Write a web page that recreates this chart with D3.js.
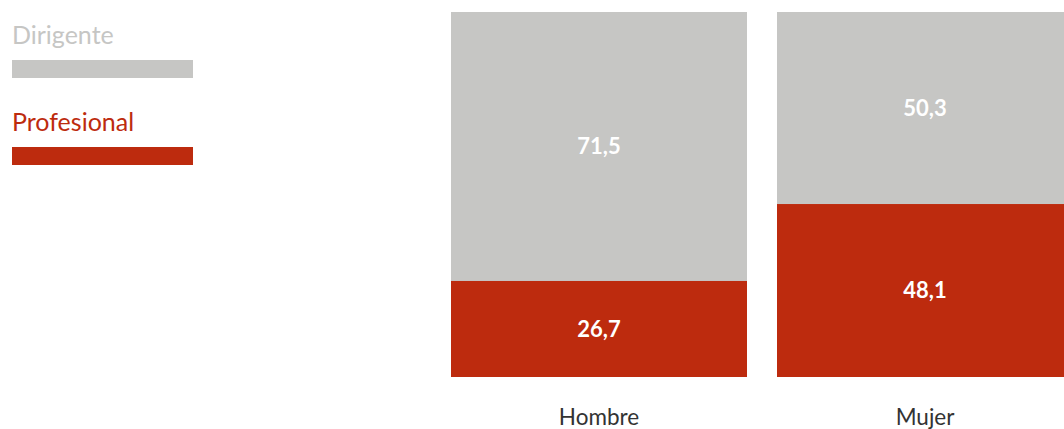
<!DOCTYPE html>
<html>
<head>
<meta charset="utf-8">
<script src="https://cdn.jsdelivr.net/npm/d3@7"></script>
<style>
  html, body { margin: 0; padding: 0; background: #ffffff; }
  svg { display: block; }
</style>
</head>
<body>
<svg id="chart" width="1064" height="429"></svg>
<script>
// ---- data ----
const categories = ["Hombre", "Mujer"];
const seriesNames = ["Dirigente", "Profesional"];
const dirigente = [71.5, 50.3];
const profesional = [26.7, 48.1];
const yMax = 101.5;

const colors = { Dirigente: "#c6c6c4", Profesional: "#bd2b0e" };
const fmt = v => d3.format(".1f")(v).replace(".", ",");

const svg = d3.select("#chart");

const x = d3.scaleBand()
  .domain(categories)
  .range([451, 1073])
  .paddingInner(30 / 326)
  .paddingOuter(0);

const y = d3.scaleLinear().domain([0, yMax]).range([377, 12]);

const rows = categories.map((c, i) => ({ cat: c, dir: dirigente[i], prof: profesional[i] }));

const g = svg.append("g");

// gray (Dirigente) segment: from top of Profesional to top of chart
g.selectAll("rect.dir").data(rows).join("rect")
  .attr("class", "dir")
  .attr("x", d => x(d.cat))
  .attr("width", x.bandwidth())
  .attr("y", y(yMax))
  .attr("height", d => y(d.prof) - y(yMax))
  .attr("fill", colors.Dirigente);

// red (Profesional) segment
g.selectAll("rect.prof").data(rows).join("rect")
  .attr("class", "prof")
  .attr("x", d => x(d.cat))
  .attr("width", x.bandwidth())
  .attr("y", d => y(d.prof))
  .attr("height", d => y(0) - y(d.prof))
  .attr("fill", colors.Profesional);

const labelFont = "Lato, 'Open Sans', sans-serif";

// value labels
g.selectAll("text.dirlab").data(rows).join("text")
  .attr("class", "dirlab")
  .attr("x", d => x(d.cat) + x.bandwidth() / 2)
  .attr("y", d => (y(yMax) + y(d.prof)) / 2)
  .attr("dy", "0.36em")
  .attr("text-anchor", "middle")
  .attr("font-family", labelFont)
  .attr("font-weight", "bold")
  .attr("font-size", 22)
  .attr("fill", "#ffffff")
  .text(d => fmt(d.dir));

g.selectAll("text.proflab").data(rows).join("text")
  .attr("class", "proflab")
  .attr("x", d => x(d.cat) + x.bandwidth() / 2)
  .attr("y", d => (y(d.prof) + y(0)) / 2)
  .attr("dy", "0.36em")
  .attr("text-anchor", "middle")
  .attr("font-family", labelFont)
  .attr("font-weight", "bold")
  .attr("font-size", 22)
  .attr("fill", "#ffffff")
  .text(d => fmt(d.prof));

// x axis (category labels only)
const xAxis = svg.append("g")
  .attr("transform", `translate(0, ${y(0)})`)
  .call(d3.axisBottom(x).tickSize(0).tickPadding(0));
xAxis.select(".domain").remove();
xAxis.selectAll("text")
  .attr("y", 48)
  .attr("dy", 0)
  .attr("font-family", labelFont)
  .attr("font-size", 22.5)
  .attr("fill", "#333333");

// legend
const legend = svg.append("g").selectAll("g").data(seriesNames).join("g")
  .attr("transform", (d, i) => `translate(12, ${i * 87})`);
legend.append("text")
  .attr("x", 0)
  .attr("y", 44)
  .attr("font-family", labelFont)
  .attr("font-size", 25)
  .attr("fill", d => colors[d])
  .text(d => d);
legend.append("rect")
  .attr("x", 0)
  .attr("y", 60)
  .attr("width", 181)
  .attr("height", 18)
  .attr("fill", d => colors[d]);
</script>
</body>
</html>
